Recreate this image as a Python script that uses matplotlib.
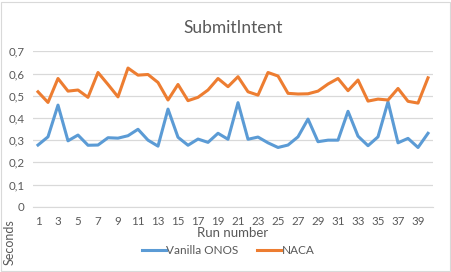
import numpy as np
import matplotlib.pyplot as plt
from matplotlib.patches import Rectangle
from matplotlib.ticker import FuncFormatter

plt.rcParams['font.family'] = ['Lato', 'DejaVu Sans']

runs = np.arange(1, 41)

# values (seconds)
vanilla_onos = [0.278, 0.315, 0.458, 0.297, 0.323, 0.277, 0.278, 0.311, 0.309, 0.320,
                0.349, 0.300, 0.273, 0.440, 0.313, 0.277, 0.305, 0.290, 0.331, 0.304,
                0.469, 0.304, 0.314, 0.288, 0.267, 0.278, 0.315, 0.395, 0.293, 0.300,
                0.300, 0.430, 0.318, 0.275, 0.315, 0.473, 0.288, 0.308, 0.267, 0.331]
naca = [0.518, 0.470, 0.578, 0.521, 0.526, 0.493, 0.605, 0.551, 0.495, 0.625,
        0.593, 0.596, 0.560, 0.481, 0.551, 0.478, 0.493, 0.526, 0.578, 0.541,
        0.586, 0.518, 0.503, 0.605, 0.589, 0.511, 0.508, 0.509, 0.521, 0.553,
        0.578, 0.523, 0.571, 0.476, 0.485, 0.481, 0.533, 0.475, 0.467, 0.581]

grey = '#595959'

fig = plt.figure(figsize=(4.52, 2.72), dpi=100)
ax = fig.add_axes([0.073, 0.240, 0.885, 0.571])

l1, = ax.plot(runs, vanilla_onos, color='#5B9BD5', lw=2.2, solid_joinstyle='round')
l2, = ax.plot(runs, naca, color='#ED7D31', lw=2.2, solid_joinstyle='round')

ax.set_xlim(0.5, 40.5)
ax.set_ylim(0, 0.7)
ax.set_yticks(np.arange(0, 0.71, 0.1))
ax.yaxis.set_major_formatter(FuncFormatter(lambda v, p: '0' if v == 0 else f'{v:.1f}'.replace('.', ',')))
ax.set_xticks(runs[::2])
ax.grid(axis='y', color='#d9d9d9', lw=0.9)
ax.set_axisbelow(True)
for s in ['left', 'right', 'top']:
    ax.spines[s].set_visible(False)
ax.spines['bottom'].set_color('#d9d9d9')
ax.tick_params(length=0, labelsize=8.3, colors=grey)
ax.tick_params(axis='x', pad=7)
ax.tick_params(axis='y', pad=6)

ax.set_title('SubmitIntent', fontsize=12.5, color=grey, pad=13)
ax.set_xlabel('Run number', fontsize=9.5, color=grey, labelpad=0)
fig.text(0.022, 0.11, 'Seconds', rotation=90, fontsize=9, color=grey, ha='center', va='center')

fig.legend([l1, l2], ['Vanilla ONOS', 'NACA'], loc='center', bbox_to_anchor=(0.505, 0.08),
           ncol=2, frameon=False, fontsize=8.5, labelcolor=grey, handlelength=2.0,
           handletextpad=0.05, columnspacing=1.6)

fig.patches.append(Rectangle((0.002, 0.004), 0.994, 0.99, transform=fig.transFigure,
                             fill=False, edgecolor='#d9d9d9', lw=0.8))

fig.savefig('out.png', dpi=100)
